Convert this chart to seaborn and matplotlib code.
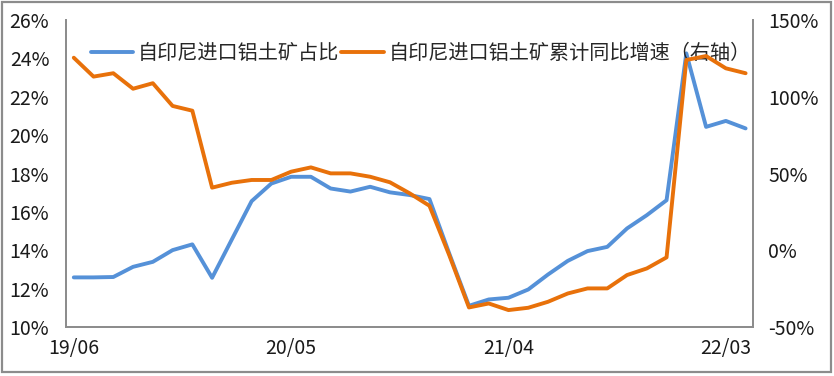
import numpy as np
import pandas as pd
import matplotlib
matplotlib.use('Agg')
import matplotlib.pyplot as plt
import seaborn as sns
from matplotlib.patches import Rectangle
from matplotlib.ticker import FuncFormatter

# 2019-06 .. 2022-04 (monthly)
months = pd.period_range('2019-06', '2022-04', freq='M')
tick_labels = ['19/06', '20/05', '21/04', '22/03']

share_pct = [12.59, 12.59, 12.61, 13.14, 13.40, 14.01, 14.31, 12.57, 14.57, 16.56,
             17.48, 17.83, 17.83, 17.22, 17.06, 17.31, 17.02, 16.88, 16.67, 13.84,
             11.11, 11.44, 11.53, 11.96, 12.74, 13.45, 13.96, 14.18, 15.14, 15.83,
             16.61, 24.26, 20.43, 20.74, 20.35]
growth_pct = [125.4, 113.1, 115.3, 105.2, 108.8, 94.0, 90.9, 40.8, 44.0, 45.8,
              45.8, 51.2, 54.0, 50.1, 50.1, 47.9, 44.3, 37.1, 29.0, -3.1,
              -37.2, -34.6, -38.9, -37.4, -33.5, -28.1, -24.8, -24.8, -16.1, -11.8,
              -4.6, 123.9, 126.5, 118.5, 115.3]

name_share = '自印尼进口铝土矿占比'
name_growth = '自印尼进口铝土矿累计同比增速（右轴）'

df = pd.DataFrame({'idx': np.arange(len(months)),
                   'share': share_pct, 'growth': growth_pct})

sns.set_theme(style='white')
plt.rcParams['font.family'] = ['Noto Sans CJK SC', 'DejaVu Sans']

blue = '#5591D8'
orange = '#E8710A'
grey = '#8C8C8C'

fig, ax = plt.subplots(figsize=(8.34, 3.76), dpi=100)
fig.subplots_adjust(left=0.079, right=0.903, top=0.947, bottom=0.13)
ax2 = ax.twinx()

sns.lineplot(data=df, x='idx', y='share', ax=ax, color=blue, linewidth=2.8,
             label=name_share, legend=False)
sns.lineplot(data=df, x='idx', y='growth', ax=ax2, color=orange, linewidth=2.8,
             label=name_growth, legend=False)

ax.set_xlim(-0.4, len(months) - 0.62)
ax.set_ylim(10, 26)
ax.set_yticks(np.arange(10, 27, 2))
ax.yaxis.set_major_formatter(FuncFormatter(lambda v, p: f'{v:.0f}%'))
ax2.set_ylim(-50, 150)
ax2.set_yticks(np.arange(-50, 151, 50))
ax2.yaxis.set_major_formatter(FuncFormatter(lambda v, p: f'{v:.0f}%'))

ax.set_xticks([0, 11, 22, 33])
ax.set_xticklabels(tick_labels)
ax.set_xlabel('')
ax.set_ylabel('')
ax2.set_ylabel('')

for a in (ax, ax2):
    a.tick_params(axis='both', length=0, labelsize=14, colors='#1a1a1a')
    a.grid(False)
    a.spines['top'].set_visible(False)
    for s in ('left', 'right', 'bottom'):
        a.spines[s].set_color(grey)
        a.spines[s].set_linewidth(1.3)
ax.tick_params(axis='y', pad=12)
ax2.tick_params(axis='y', pad=11)
ax.tick_params(axis='x', pad=8)

h1, l1 = ax.get_legend_handles_labels()
h2, l2 = ax2.get_legend_handles_labels()
leg = ax2.legend(h1 + h2, l1 + l2, loc='center left', bbox_to_anchor=(0.036, 0.89),
                 ncol=2, frameon=False, fontsize=14.5, handlelength=2.1,
                 handletextpad=0.25, columnspacing=0.1, borderaxespad=0,
                 borderpad=0)
leg.set_zorder(0)

fig.patches.append(Rectangle((0.002, 0.01), 0.995, 0.985, transform=fig.transFigure,
                             fill=False, edgecolor=grey, linewidth=1.6))

fig.savefig('out.png', dpi=100)
